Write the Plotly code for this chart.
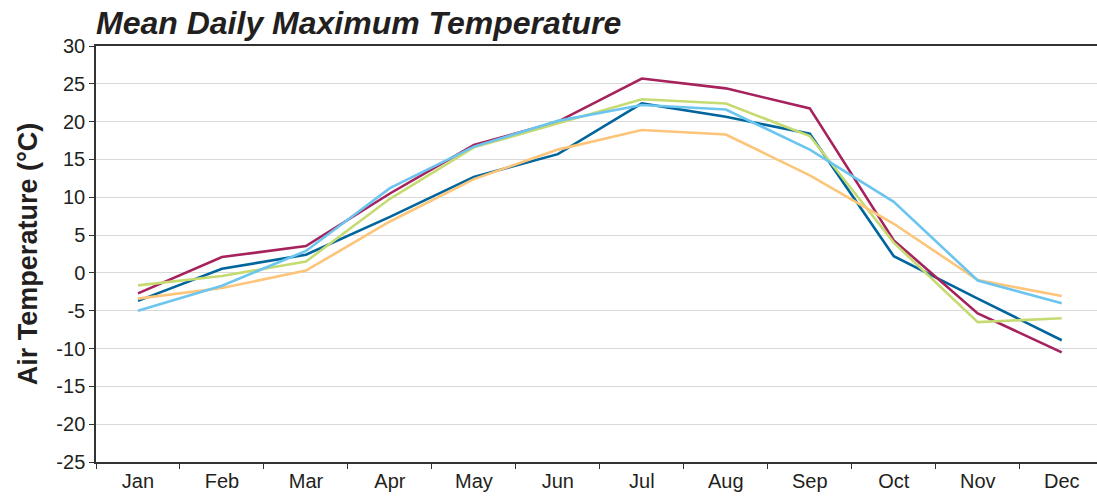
import plotly.graph_objects as go

months = ["Jan", "Feb", "Mar", "Apr", "May", "Jun", "Jul", "Aug", "Sep", "Oct", "Nov", "Dec"]

y_tick_values = [-25, -20, -15, -10, -5, 0, 5, 10, 15, 20, 25, 30]
y_tick_labels = ["-25", "-20", "-15", "-10", "-5", "0", "5", "10", "15", "20", "25", "30"]

series_dark_blue = [-3.7, 0.55, 2.4, 7.4, 12.7, 15.7, 22.4, 20.65, 18.4, 2.2, -3.4, -8.9]
series_magenta = [-2.7, 2.1, 3.55, 10.5, 16.9, 20.0, 25.7, 24.4, 21.75, 4.3, -5.35, -10.5]
series_green = [-1.65, -0.4, 1.5, 9.8, 16.6, 19.8, 22.95, 22.4, 18.1, 4.0, -6.5, -6.0]
series_orange = [-3.4, -2.0, 0.3, 6.8, 12.4, 16.3, 18.9, 18.3, 12.9, 6.5, -0.95, -3.05]
series_light_blue = [-5.0, -1.7, 2.9, 11.2, 16.7, 20.1, 22.2, 21.6, 16.3, 9.4, -1.0, -4.0]

series = [
    ("Series 1", series_dark_blue, "#00659C"),
    ("Series 2", series_magenta, "#A6225C"),
    ("Series 3", series_green, "#C5DB72"),
    ("Series 4", series_orange, "#FDC57A"),
    ("Series 5", series_light_blue, "#6CC5EF"),
]

fig = go.Figure()
for name, vals, col in series:
    fig.add_trace(go.Scatter(x=months, y=vals, mode="lines", name=name,
                             line=dict(color=col, width=2.6)))

txt = "#231F20"
fig.update_layout(
    width=1097, height=497,
    margin=dict(l=96, r=0, t=46, b=35),
    paper_bgcolor="white", plot_bgcolor="white",
    showlegend=False,
    font=dict(family="Liberation Sans, Arial, sans-serif", color=txt, size=20),
    title=dict(text="<b><i>Mean Daily Maximum Temperature</i></b>",
               x=96 / 1097, xref="container", xanchor="left",
               y=1 - 23 / 497, yref="container", yanchor="middle",
               font=dict(size=32, color=txt)),
)
fig.update_xaxes(
    type="category", range=[-0.5, 11.42],
    showline=True, linecolor="#333333", linewidth=1.5, mirror=True,
    ticks="outside", tickson="boundaries", ticklen=5, tickcolor="#333333",
    showgrid=False, tickfont=dict(size=20, color=txt),
)
fig.update_yaxes(
    range=[-25, 30], tickmode="array", tickvals=y_tick_values, ticktext=y_tick_labels,
    showline=True, linecolor="#333333", linewidth=1.5,
    ticks="outside", ticklen=5, tickcolor="#333333",
    showgrid=True, gridcolor="#D9D9D9", gridwidth=1,
    zeroline=False,
    tickfont=dict(size=20, color=txt),
    title=dict(text="<b>Air Temperature (°C)</b>", font=dict(size=27, color=txt), standoff=11),
)

fig.write_html("out.html")
